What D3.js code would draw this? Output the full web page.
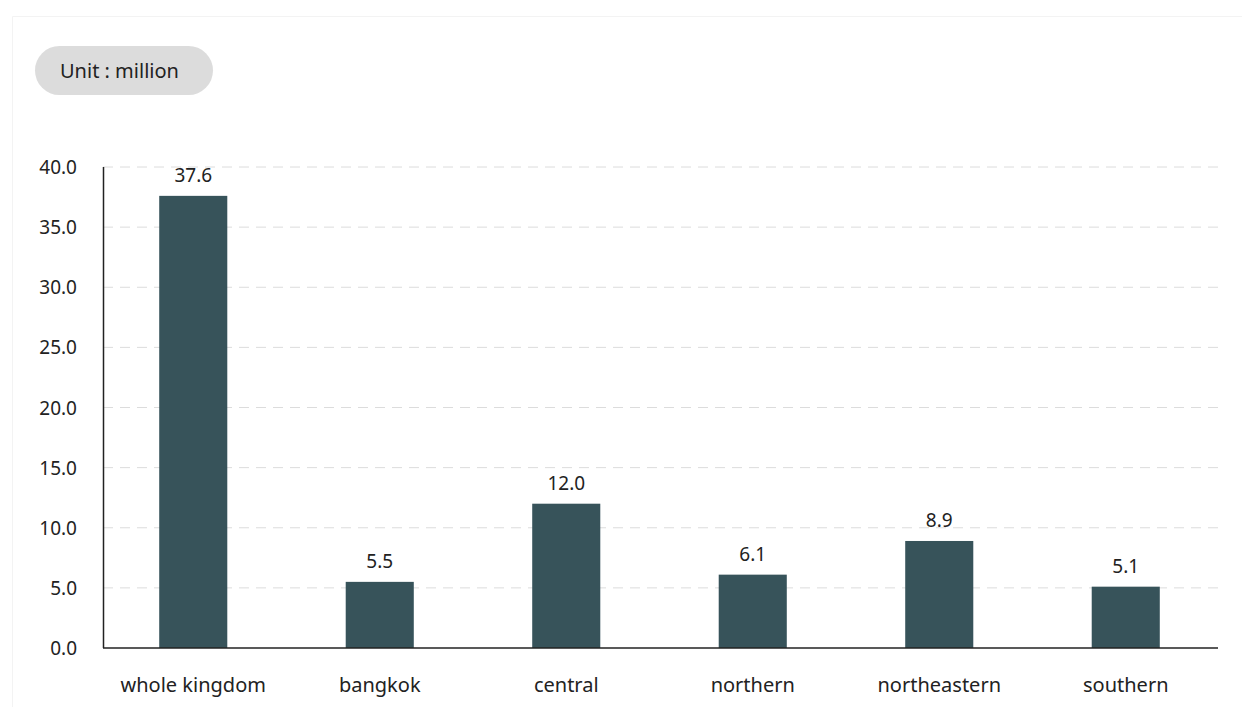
<!DOCTYPE html>
<html>
<head>
<meta charset="utf-8">
<script src="https://cdn.jsdelivr.net/npm/d3@7"></script>
<style>
  html, body { margin: 0; padding: 0; background: #ffffff; }
  svg { display: block; font-family: "Noto Sans", "DejaVu Sans", sans-serif; }
</style>
</head>
<body>
<svg id="chart" width="1242" height="707"></svg>
<script>
const categories = ["whole kingdom", "bangkok", "central", "northern", "northeastern", "southern"];
const values = [37.6, 5.5, 12.0, 6.1, 8.9, 5.1];
const yTicks = [0, 5, 10, 15, 20, 25, 30, 35, 40];
const unitLabel = "Unit : million";

const svg = d3.select("#chart");

// faint outer frame
svg.append("path")
  .attr("d", "M12.5,707 L12.5,16.5 L1242,16.5")
  .attr("fill", "none")
  .attr("stroke", "#f3f3f3")
  .attr("stroke-width", 1);

// unit pill
svg.append("rect")
  .attr("x", 35).attr("y", 46).attr("width", 178).attr("height", 49)
  .attr("rx", 24.5).attr("ry", 24.5)
  .attr("fill", "#dcdcdc");
svg.append("text")
  .attr("x", 60).attr("y", 78)
  .attr("font-size", 20).attr("fill", "#222")
  .text(unitLabel);

const x = d3.scaleBand().domain(categories).range([100, 1219]).paddingInner(0.635).paddingOuter(0.3175);
const y = d3.scaleLinear().domain([0, 40]).range([648, 167]);

// gridlines
svg.append("g")
  .selectAll("line")
  .data(yTicks.filter(d => d > 0))
  .join("line")
  .attr("x1", 103).attr("x2", 1218)
  .attr("y1", d => y(d)).attr("y2", d => y(d))
  .attr("stroke", "#dcdcdc")
  .attr("stroke-width", 1)
  .attr("stroke-dasharray", "10,7");

// y tick labels
svg.append("g")
  .selectAll("text")
  .data(yTicks)
  .join("text")
  .attr("x", 77)
  .attr("y", d => y(d) + 7)
  .attr("text-anchor", "end")
  .attr("font-size", 19)
  .attr("fill", "#222")
  .text(d => d.toFixed(1));

// bars
svg.append("g")
  .selectAll("rect")
  .data(values)
  .join("rect")
  .attr("x", (d, i) => x(categories[i]))
  .attr("width", x.bandwidth())
  .attr("y", d => y(d))
  .attr("height", d => y(0) - y(d))
  .attr("fill", "#37535a");

// value labels
svg.append("g")
  .selectAll("text")
  .data(values)
  .join("text")
  .attr("x", (d, i) => x(categories[i]) + x.bandwidth() / 2)
  .attr("y", d => y(d) - 14)
  .attr("text-anchor", "middle")
  .attr("font-size", 19)
  .attr("fill", "#222")
  .text(d => d.toFixed(1));

// axes lines
svg.append("line")
  .attr("x1", 103.5).attr("x2", 103.5).attr("y1", 167).attr("y2", 648)
  .attr("stroke", "#222").attr("stroke-width", 1.5);
svg.append("line")
  .attr("x1", 103).attr("x2", 1218).attr("y1", 648).attr("y2", 648)
  .attr("stroke", "#222").attr("stroke-width", 1.5);

// category labels
svg.append("g")
  .selectAll("text")
  .data(categories)
  .join("text")
  .attr("x", d => x(d) + x.bandwidth() / 2)
  .attr("y", 692)
  .attr("text-anchor", "middle")
  .attr("font-size", 20)
  .attr("fill", "#222")
  .text(d => d);
</script>
</body>
</html>
